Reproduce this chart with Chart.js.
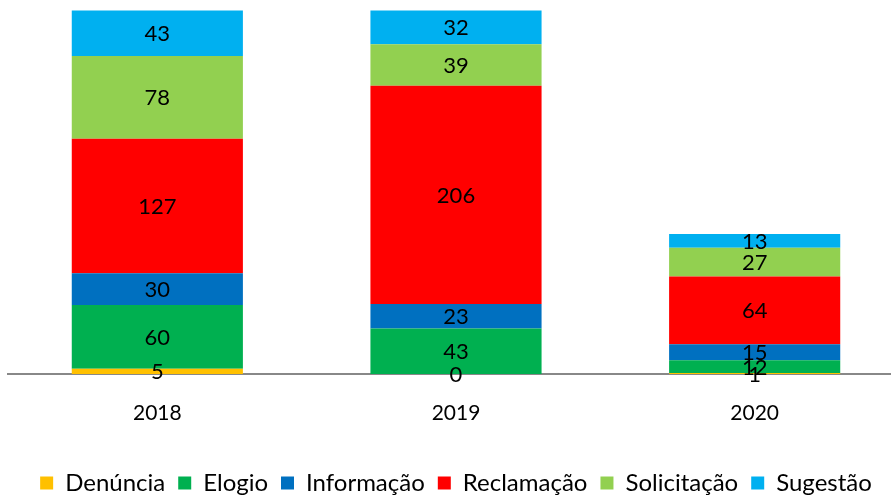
<!DOCTYPE html>
<html>
<head>
<meta charset="utf-8">
<script src="https://cdn.jsdelivr.net/npm/chart.js@4/dist/chart.umd.min.js"></script>
<style>
html,body{margin:0;padding:0;background:#fff;overflow:hidden;width:891px;height:497px;}
#wrap{position:absolute;left:0;top:0;width:904px;height:497px;}
</style>
</head>
<body>
<div id="wrap"><canvas id="c"></canvas></div>
<script>
const categories = ['2018', '2019', '2020'];
const denuncia = [5, 0, 1];
const elogio = [60, 43, 12];
const informacao = [30, 23, 15];
const reclamacao = [127, 206, 64];
const solicitacao = [78, 39, 27];
const sugestao = [43, 32, 13];
const yMax = 350;

const FONT = 'Lato, "Open Sans", sans-serif';

const labelPlugin = {
  id: 'segLabels',
  afterDatasetsDraw(chart) {
    const ctx = chart.ctx;
    ctx.save();
    ctx.font = '22px ' + FONT;
    ctx.fillStyle = '#000';
    ctx.textAlign = 'center';
    ctx.textBaseline = 'middle';
    chart.data.datasets.forEach((ds, i) => {
      const meta = chart.getDatasetMeta(i);
      meta.data.forEach((el, j) => {
        const v = ds.data[j];
        ctx.fillText(String(v), el.x, (el.y + el.base) / 2 + 1);
      });
    });
    ctx.restore();
  }
};

new Chart(document.getElementById('c'), {
  type: 'bar',
  data: {
    labels: categories,
    datasets: [
      { label: 'Denúncia', data: denuncia, backgroundColor: '#FFC000' },
      { label: 'Elogio', data: elogio, backgroundColor: '#00B050' },
      { label: 'Informação', data: informacao, backgroundColor: '#0070C0' },
      { label: 'Reclamação', data: reclamacao, backgroundColor: '#FF0000' },
      { label: 'Solicitação', data: solicitacao, backgroundColor: '#92D050' },
      { label: 'Sugestão', data: sugestao, backgroundColor: '#00B0F0' }
    ]
  },
  options: {
    responsive: true,
    maintainAspectRatio: false,
    animation: false,
    layout: { padding: { left: 8, right: 0, top: 3, bottom: -8 } },
    datasets: { bar: { categoryPercentage: 0.573, barPercentage: 1.0, borderWidth: 0 } },
    scales: {
      x: {
        stacked: true,
        grid: { display: false, drawTicks: false },
        border: { display: true, color: '#888888', width: 2 },
        ticks: { color: '#000', font: { family: FONT, size: 21 }, padding: 27 },
        afterFit(scale) { scale.height = 84; }
      },
      y: {
        stacked: true,
        display: false,
        min: 0,
        max: yMax
      }
    },
    plugins: {
      legend: {
        position: 'bottom',
        labels: {
          color: '#000',
          font: { family: FONT, size: 24 },
          boxWidth: 13,
          boxHeight: 13,
          padding: 13
        }
      },
      tooltip: { enabled: false }
    }
  },
  plugins: [labelPlugin]
});
</script>
</body>
</html>
